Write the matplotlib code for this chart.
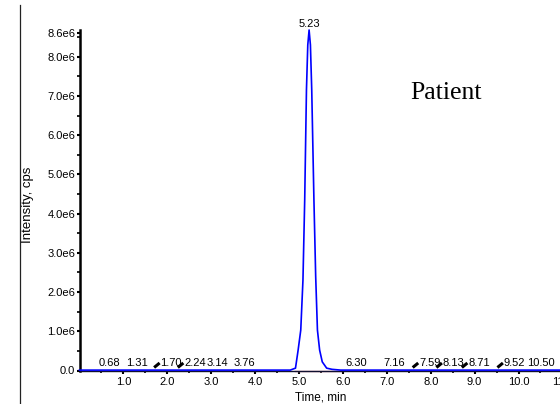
import matplotlib
matplotlib.use("Agg")
import matplotlib.pyplot as plt
from matplotlib.lines import Line2D
import numpy as np

# ---- data ----
trace_time = [0.0, 4.80, 4.92, 4.98, 5.04, 5.09, 5.13, 5.17, 5.20, 5.23, 5.26,
              5.29, 5.34, 5.38, 5.42, 5.47, 5.53, 5.63, 5.75, 5.95, 11.0]
trace_intensity = [0.01e6, 0.01e6, 0.06e6, 0.52e6, 1.03e6, 2.3e6, 4.35e6, 7.16e6,
                   8.3e6, 8.68e6, 8.3e6, 7.16e6, 4.35e6, 2.4e6, 1.03e6, 0.52e6,
                   0.22e6, 0.06e6, 0.03e6, 0.01e6, 0.01e6]
main_peak = 5.23
small_peaks = [0.68, 1.31, 1.70, 2.24, 3.14, 3.76, 6.30, 7.16, 7.59, 8.13, 8.71, 9.52, 10.50]
slashed = [1.70, 2.24, 7.59, 8.13, 8.71, 9.52]
integrated_range = [4.90, 5.95]
x_ticks = [1.0, 2.0, 3.0, 4.0, 5.0, 6.0, 7.0, 8.0, 9.0, 10.0, 11.0]
y_ticks = [0.0, 1.0e6, 2.0e6, 3.0e6, 4.0e6, 5.0e6, 6.0e6, 7.0e6, 8.0e6, 8.6e6]
y_tick_labels = ["0.0", "1.0e6", "2.0e6", "3.0e6", "4.0e6", "5.0e6", "6.0e6",
                 "7.0e6", "8.0e6", "8.6e6"]
x_max, y_max = 11.0, 8.68e6

W, H = 560, 404
fig = plt.figure(figsize=(W / 100, H / 100), dpi=100)
fig.patch.set_facecolor("white")
font = ["Liberation Sans", "DejaVu Sans"]

left_px, bottom_px, top_px = 79.5, 370.5, 30
width_px = 11 * 43.9
ax = fig.add_axes([left_px / W, (H - bottom_px) / H, width_px / W, (bottom_px - top_px) / H])
ax.set_facecolor("none")
ax.set_xlim(0, x_max)
ax.set_ylim(0, y_max)

for s in ("top", "right"):
    ax.spines[s].set_visible(False)
ax.spines["left"].set_linewidth(1.8)
ax.spines["bottom"].set_linewidth(1.0)
ax.spines["bottom"].set_color("#101030")

ax.set_xticks(x_ticks)
ax.set_xticklabels([f"{v:.1f}" for v in x_ticks], fontfamily=font, fontsize=8)
ax.set_xticks(np.arange(0.5, x_max, 1.0), minor=True)
ax.set_yticks(y_ticks)
ax.set_yticklabels(y_tick_labels, fontfamily=font, fontsize=8)
ax.set_yticks(np.arange(0.5e6, 8.6e6, 1.0e6), minor=True)
ax.tick_params(axis="x", which="major", direction="out", length=2.2, width=1.5, pad=2.5)
ax.tick_params(axis="x", which="minor", direction="out", length=1.5, width=1.2)
ax.tick_params(axis="y", which="major", direction="out", length=2.5, width=1.5, pad=0.5)
ax.tick_params(axis="y", which="minor", direction="out", length=2.0, width=1.2)

# integration baseline (pink) under the trace
ax.plot(integrated_range, [-0.025e6, -0.025e6], color="#e08898", lw=1.0, clip_on=False, zorder=2)
# chromatogram trace
ax.plot(trace_time, trace_intensity, color="#0000ff", lw=1.2, zorder=3, clip_on=False)

# main peak label
ax.annotate(f"{main_peak:.2f}", xy=(main_peak, y_max), xytext=(0, 2.2), textcoords="offset points",
            ha="center", va="baseline", fontsize=8, fontfamily=font, annotation_clip=False)

fig.canvas.draw()
# small peak labels and slash markers
for t in small_peaks:
    if t in slashed:
        x0, y0 = ax.transData.transform((t, 0))
        seg = Line2D([x0, x0 + 5.5], [y0 + 3.0, y0 + 7.5], transform=None,
                     color="black", lw=2.2, solid_capstyle="butt")
        fig.add_artist(seg)
        ax.annotate(f"{t:.2f}", xy=(t, 0), xytext=(4.5, 2.9), textcoords="offset points",
                    ha="left", va="baseline", fontsize=8, fontfamily=font)
    else:
        ax.annotate(f"{t:.2f}", xy=(t, 0), xytext=(0, 2.9), textcoords="offset points",
                    ha="center", va="baseline", fontsize=8, fontfamily=font)

# axis labels
fig.text(321 / W, (H - 400) / H, "Time, min", ha="center", va="baseline",
         fontsize=8.5, fontfamily=font)
fig.text(28 / W, (H - 205) / H, "Intensity, cps", ha="center", va="center",
         rotation=90, fontsize=9.5, fontfamily=font)

# annotation text
fig.text(410 / W, (H - 99) / H, "Patient", ha="left", va="baseline",
         fontsize=18.5, fontfamily=["Liberation Serif", "DejaVu Serif"])

# left border line
fig.add_artist(Line2D([20 / W, 20 / W], [0, (H - 5) / H], transform=fig.transFigure,
                      color="#222222", lw=0.9))

fig.savefig("out.png", dpi=100, facecolor="white")
